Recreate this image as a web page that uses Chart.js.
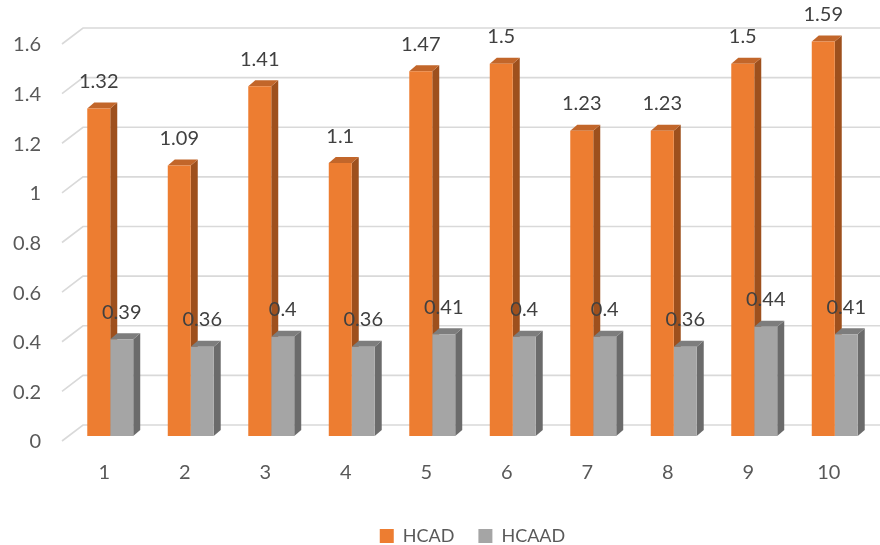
<!DOCTYPE html>
<html>
<head>
<meta charset="utf-8">
<script src="https://cdn.jsdelivr.net/npm/chart.js@4"></script>
<style>
  html, body { margin: 0; padding: 0; background: #fff; }
  #wrap { width: 880px; height: 545px; }
</style>
</head>
<body>
<div id="wrap"><canvas id="myChart"></canvas></div>
<script>
// 카테고리와 시리즈 값
const labels = ["1", "2", "3", "4", "5", "6", "7", "8", "9", "10"];
const hcad = [1.32, 1.09, 1.41, 1.1, 1.47, 1.5, 1.23, 1.23, 1.5, 1.59];
const hcaad = [0.39, 0.36, 0.4, 0.36, 0.41, 0.4, 0.4, 0.36, 0.44, 0.41];
const yTicks = [0, 0.2, 0.4, 0.6, 0.8, 1, 1.2, 1.4, 1.6];

const FONT = "Lato, 'Open Sans', sans-serif";
const DEPTH_X = 7;   // 막대 옆면 깊이
const DEPTH_Y = 6;
const sideColors = ["#9e501d", "#6b6b6b"];
const topColors = ["#c2662a", "#7d7d7d"];

// 3D 느낌 벽면 격자 + 막대 옆면/윗면
const box3d = {
  id: "box3d",
  beforeDatasetsDraw(chart) {
    const { ctx } = chart;
    const y = chart.scales.y;
    ctx.save();
    ctx.strokeStyle = "#d9d9d9";
    ctx.lineWidth = 1.6;
    yTicks.forEach((v) => {
      const py = y.getPixelForValue(v);
      ctx.beginPath();
      ctx.moveTo(62, py + 5);
      ctx.lineTo(83, py - 11);
      ctx.lineTo(880, py - 11);
      ctx.stroke();
    });
    // y축 라벨
    ctx.fillStyle = "#595959";
    ctx.font = "20px " + FONT;
    ctx.textAlign = "right";
    ctx.textBaseline = "middle";
    yTicks.forEach((v) => {
      ctx.fillText(String(v), 41, y.getPixelForValue(v) + 6);
    });

    const metas = [chart.getDatasetMeta(0), chart.getDatasetMeta(1)];
    for (let i = 0; i < labels.length; i++) {
      metas.forEach((meta, d) => {
        const bar = meta.data[i];
        const x0 = bar.x - bar.width / 2;
        const x1 = bar.x + bar.width / 2;
        // 옆면
        ctx.fillStyle = sideColors[d];
        ctx.beginPath();
        ctx.moveTo(x1, bar.y);
        ctx.lineTo(x1 + DEPTH_X, bar.y - DEPTH_Y);
        ctx.lineTo(x1 + DEPTH_X, bar.base - DEPTH_Y);
        ctx.lineTo(x1, bar.base);
        ctx.closePath();
        ctx.fill();
        // 윗면
        ctx.fillStyle = topColors[d];
        ctx.beginPath();
        ctx.moveTo(x0, bar.y);
        ctx.lineTo(x1, bar.y);
        ctx.lineTo(x1 + DEPTH_X, bar.y - DEPTH_Y);
        ctx.lineTo(x0 + DEPTH_X, bar.y - DEPTH_Y);
        ctx.closePath();
        ctx.fill();
      });
    }
    ctx.restore();
  },
  afterDatasetsDraw(chart) {
    const { ctx } = chart;
    ctx.save();
    ctx.fillStyle = "#404040";
    ctx.font = "20px " + FONT;
    ctx.textAlign = "center";
    ctx.textBaseline = "middle";
    chart.data.datasets.forEach((ds, d) => {
      chart.getDatasetMeta(d).data.forEach((bar, i) => {
        ctx.fillText(String(ds.data[i]), bar.x, bar.y - 27);
      });
    });
    ctx.restore();
  },
};

new Chart(document.getElementById("myChart"), {
  type: "bar",
  data: {
    labels: labels,
    datasets: [
      { label: "HCAD", data: hcad, backgroundColor: "#ed7d31" },
      { label: "HCAAD", data: hcaad, backgroundColor: "#a5a5a5" },
    ],
  },
  options: {
    responsive: true,
    maintainAspectRatio: false,
    animation: false,
    categoryPercentage: 0.571,
    barPercentage: 1,
    layout: { padding: { top: 39, left: 70, right: 5, bottom: -10 } },
    plugins: {
      legend: {
        position: "bottom",
        labels: {
          boxWidth: 14,
          boxHeight: 14,
          padding: 24,
          color: "#595959",
          font: { family: FONT, size: 18 },
        },
      },
      tooltip: { enabled: false },
    },
    scales: {
      y: { display: false, min: 0, max: 1.6 },
      x: {
        grid: { display: false },
        border: { display: false },
        ticks: {
          color: "#595959",
          font: { family: FONT, size: 20 },
          labelOffset: -6,
          padding: 17,
        },
        afterFit(scale) { scale.height = 67; },
      },
    },
  },
  plugins: [box3d],
});
</script>
</body>
</html>
